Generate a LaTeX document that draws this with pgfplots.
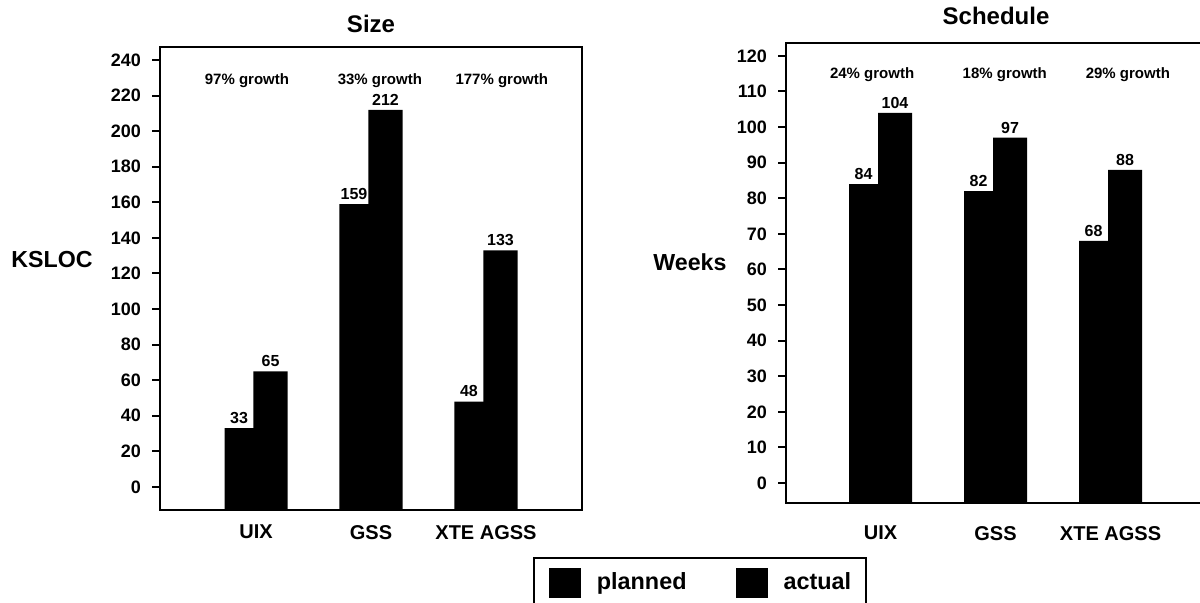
\documentclass[border=0pt]{standalone}
\usepackage{pgfplots}
\pgfplotsset{compat=1.18}
\usepackage{fontspec}
\setmainfont{Liberation Sans}

\pgfplotsset{
  mybars/.style={
    scale only axis,
    axis line style={line width=1.2pt},
    xtick={0,1,2},
    xticklabels={UIX,GSS,XTE AGSS},
    xtick style={draw=none},
    ytick pos=left,
    tick align=outside,
    ytick style={line width=1pt, black},
    major tick length=4pt,
    yticklabel style={font=\bfseries\fontsize{9}{10}\selectfont, xshift=-2pt},
    xticklabel style={font=\bfseries\fontsize{10}{12}\selectfont},
    /pgf/number format/assume math mode=true,
    nodes near coords,
    nodes near coords align={vertical},
    point meta=rawy,
    nodes near coords style={font=\bfseries\fontsize{8}{9}\selectfont, inner sep=2pt, black},
    title style={at={(0.5,1)}, anchor=base, font=\bfseries\fontsize{12}{14}\selectfont},
    ylabel style={rotate=-90, anchor=center, font=\bfseries\fontsize{11.6}{13}\selectfont},
  },
  planned/.style={ybar, bar width=0.262, bar shift=-0.143, fill=black, draw=none,
    every node near coord/.append style={xshift=-8.5pt},
    legend image code/.code={\fill[black] (0pt,-7.5pt) rectangle (16pt,7.5pt);}},
  actual/.style={ybar, bar width=0.296, bar shift=0.126, fill=black, draw=none,
    every node near coord/.append style={xshift=7.25pt},
    legend image code/.code={\fill[black] (0pt,-7.5pt) rectangle (16pt,7.5pt);}},
}

\begin{document}
\begin{tikzpicture}
% ---------------- Size ----------------
\begin{axis}[
  mybars,
  at={(80pt,-23.5pt)}, anchor=north west,
  width=211pt, height=231.5pt,
  xmin=-0.835, xmax=2.835,
  y coord trafo/.code={\pgfmathparse{#1+13}},
  y coord inv trafo/.code={\pgfmathparse{#1-13}},
  ymin=-13, ymax=247.3,
  ytick={0,20,40,60,80,100,120,140,160,180,200,220,240},
  yticklabels={0,20,40,60,80,100,120,140,160,180,200,220,240},
  title={Size},
  title style={yshift=1.2pt},
  ylabel={KSLOC},
  ylabel style={at={(axis description cs:-0.256,0.54)}},
  legend columns=2,
  reverse legend,
  legend style={at={(0.884,-0.1015)}, anchor=north west, draw=black, line width=0.8pt,
    inner xsep=7.5pt, inner ysep=5pt,
    font=\bfseries\fontsize{11.7}{14}\selectfont,
    nodes={inner sep=0pt},
    /tikz/every odd column/.append style={column sep=8pt},
    /tikz/every even column/.append style={column sep=24.5pt}},
]
\addplot[actual] coordinates {(0,65) (1,212) (2,133)};
\addlegendentry{actual}
\addplot[planned] coordinates {(0,33) (1,159) (2,48)};
\addlegendentry{planned}
\node[font=\bfseries\fontsize{7.5}{9}\selectfont] at (rel axis cs:0.206,0.927) {97\% growth};
\node[font=\bfseries\fontsize{7.5}{9}\selectfont] at (rel axis cs:0.521,0.927) {33\% growth};
\node[font=\bfseries\fontsize{7.5}{9}\selectfont] at (rel axis cs:0.810,0.927) {177\% growth};
\end{axis}
% ---------------- Schedule ----------------
\begin{axis}[
  mybars,
  at={(393pt,-21.5pt)}, anchor=north west,
  width=210pt, height=230pt,
  xmin=-0.822, xmax=2.83,
  y coord trafo/.code={\pgfmathparse{#1+5.6}},
  y coord inv trafo/.code={\pgfmathparse{#1-5.6}},
  ymin=-5.6, ymax=123.6,
  ytick={0,10,20,30,40,50,60,70,80,90,100,110,120},
  yticklabels={0,10,20,30,40,50,60,70,80,90,100,110,120},
  xticklabel style={yshift=-4pt},
  title={Schedule},
  title style={yshift=3.2pt},
  ylabel={Weeks},
  ylabel style={at={(axis description cs:-0.2286,0.524)}},
]
\addplot[actual] coordinates {(0,104) (1,97) (2,88)};
\addplot[planned] coordinates {(0,84) (1,82) (2,68)};
\node[font=\bfseries\fontsize{7.5}{9}\selectfont] at (rel axis cs:0.205,0.932) {24\% growth};
\node[font=\bfseries\fontsize{7.5}{9}\selectfont] at (rel axis cs:0.521,0.932) {18\% growth};
\node[font=\bfseries\fontsize{7.5}{9}\selectfont] at (rel axis cs:0.814,0.932) {29\% growth};
\end{axis}
\pgfresetboundingbox
\useasboundingbox (0pt,0pt) rectangle (600pt,-301pt);
\end{tikzpicture}
\end{document}
